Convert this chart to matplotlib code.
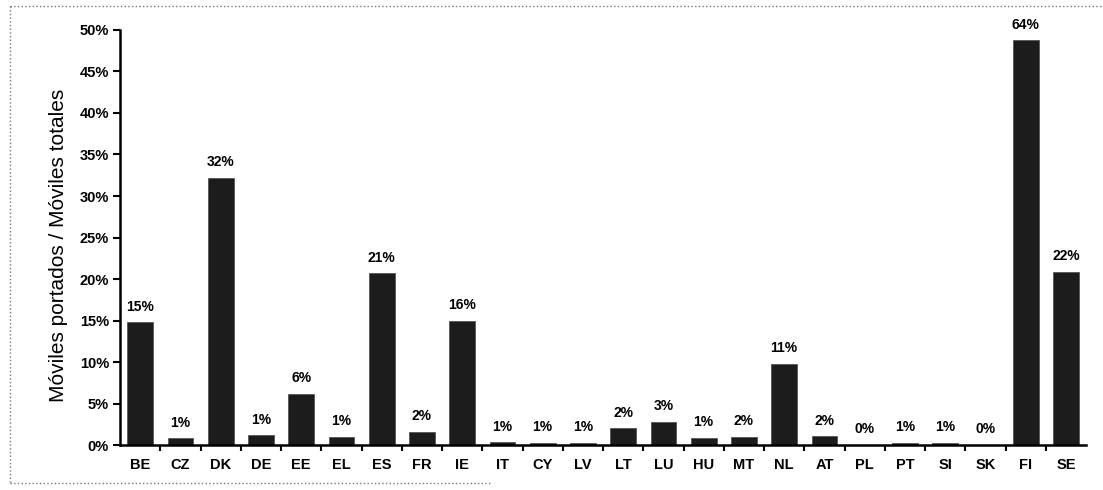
import numpy as np
import matplotlib
matplotlib.use("Agg")
import matplotlib.pyplot as plt
from matplotlib.lines import Line2D

paises = ["BE", "CZ", "DK", "DE", "EE", "EL", "ES", "FR", "IE", "IT", "CY", "LV",
          "LT", "LU", "HU", "MT", "NL", "AT", "PL", "PT", "SI", "SK", "FI", "SE"]
# altura de las barras (%)
alturas = [14.8, 0.8, 32.2, 1.2, 6.2, 1.0, 20.7, 1.6, 15.0, 0.35, 0.3, 0.3,
           2.0, 2.8, 0.9, 1.0, 9.8, 1.1, 0.05, 0.3, 0.3, 0.05, 48.8, 20.9]
# etiquetas que aparecen encima de cada barra
etiquetas = ["15%", "1%", "32%", "1%", "6%", "1%", "21%", "2%", "16%", "1%", "1%", "1%",
             "2%", "3%", "1%", "2%", "11%", "2%", "0%", "1%", "1%", "0%", "64%", "22%"]
yticks = [0, 5, 10, 15, 20, 25, 30, 35, 40, 45, 50]

plt.rcParams['font.family'] = ['Liberation Sans', 'DejaVu Sans']

fig = plt.figure(figsize=(11.03, 4.9), dpi=100)
ax = fig.add_axes([0.1088, 0.0918, 0.8758, 0.847])

x = np.arange(len(paises))
ax.bar(x, alturas, width=0.64, color="#1c1c1c", edgecolor="#555555", linewidth=0.6)

for xi, h, t in zip(x, alturas, etiquetas):
    ax.text(xi, h + 1.0, t, ha="center", va="bottom", fontsize=10, fontweight="bold")

ax.set_xlim(-0.5, 23.5)
ax.set_ylim(0, 50)
ax.set_yticks(yticks)
ax.set_yticklabels([f"{v}%" for v in yticks], fontsize=10.5, fontweight="bold")
ax.set_xticks(x)
ax.set_xticklabels(paises, fontsize=10.5, fontweight="bold")
ax.tick_params(axis="x", which="major", length=0, pad=9)
ax.set_xticks(x[:-1] + 0.5, minor=True)
ax.tick_params(axis="x", which="minor", length=4, width=1.5, direction="out")
ax.tick_params(axis="y", length=5, width=1.5, direction="out", pad=3)

for s in ["top", "right"]:
    ax.spines[s].set_visible(False)
ax.spines["left"].set_linewidth(1.8)
ax.spines["bottom"].set_linewidth(1.8)

fig.text(0.053, 0.50, "Móviles portados / Móviles totales", rotation=90,
         ha="center", va="center", fontsize=15,
         family=["Liberation Sans Narrow", "Liberation Sans", "DejaVu Sans"])

# borde punteado
borde = dict(color="#777777", linestyle=":", linewidth=1.0, transform=fig.transFigure)
fig.add_artist(Line2D([10 / 1103, 1103 / 1103], [1 - 6 / 490, 1 - 6 / 490], **borde))
fig.add_artist(Line2D([10 / 1103, 10 / 1103], [1 - 6 / 490, 1 - 483 / 490], **borde))
fig.add_artist(Line2D([10 / 1103, 490 / 1103], [1 - 483 / 490, 1 - 483 / 490], **borde))

fig.savefig("out.png", dpi=100)
